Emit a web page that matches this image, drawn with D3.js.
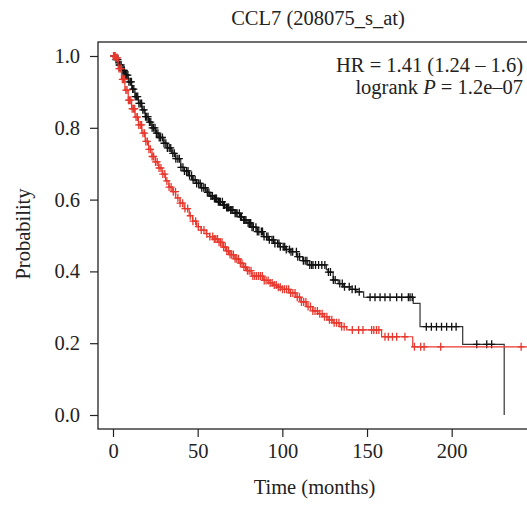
<!DOCTYPE html>
<html><head><meta charset="utf-8">
<script src="https://cdn.jsdelivr.net/npm/d3@7"></script>
<style>
html,body{margin:0;padding:0;background:#fff;}
svg{display:block;}
text{font-family:"Liberation Serif","Times New Roman",serif;fill:#222;}
</style></head>
<body>
<svg id="c" width="527" height="505"></svg>
<script>
// ---- data ----
const title = "CCL7 (208075_s_at)";
const xLabel = "Time (months)";
const yLabel = "Probability";
const xTicks = [0, 50, 100, 150, 200];
const yTicks = [0.0, 0.2, 0.4, 0.6, 0.8, 1.0];
const hrText = "HR = 1.41 (1.24 \u2013 1.6)";
const pLabelPre = "logrank ";
const pLabelVar = "P";
const pLabelPost = " = 1.2e\u201307";

// low expression (black): event times and survival after each step
const lowTimes = [0,1.2,3,5,7,9,11,13,15,17,19,21,23,25,27,30,32,34.6,37,40,42,44.5,47,49.4,52,55,57,59,62,65,67,69,72,75,77,79,82,85,88.8,92,95,98.6,102,104.5,108.5,112,115,126,127,130,133,136,140,144,148,177.3,181.3,206.5,231];
const lowSurv  = [1,0.99,0.975,0.96,0.947,0.928,0.908,0.887,0.868,0.85,0.831,0.816,0.8,0.785,0.773,0.757,0.744,0.729,0.714,0.69,0.68,0.667,0.655,0.645,0.633,0.62,0.61,0.603,0.594,0.585,0.578,0.571,0.562,0.552,0.543,0.535,0.523,0.511,0.497,0.488,0.478,0.469,0.461,0.455,0.441,0.43,0.418,0.405,0.398,0.376,0.366,0.357,0.35,0.343,0.328,0.311,0.246,0.197,0.0];
const lowCensor = [0.4,1.1,1.7,2.3,2.9,3.6,4.1,4.8,5.4,6.1,6.7,7.4,8.1,8.8,9.4,10.2,10.9,11.6,12.3,13.1,13.9,14.6,15.3,16.1,16.9,17.6,18.4,19.2,19.9,20.7,21.5,22.3,23.1,23.9,24.8,25.6,26.5,27.3,28.1,29.2,30.1,31.2,32.1,33.2,34.1,35.3,36.2,37.1,38.3,39.2,40.1,41.3,42.2,43.4,44.3,45.2,46.4,47.3,48.5,49.4,50.6,51.5,52.4,53.6,54.5,55.7,56.6,57.8,58.7,59.9,60.6,61.1,62.2,62.9,63.4,64.6,65.2,65.8,67.1,67.7,68.3,69.5,70.2,70.8,72.1,72.7,73.3,74.6,75.3,75.9,77.2,77.8,78.5,79.8,80.6,81.3,82.1,82.9,84.4,85.2,86.1,87.6,88.3,89.2,90.7,91.5,92.3,93.9,94.8,95.6,97.2,98.0,98.8,100.5,101.4,102.3,104.2,105.1,106.1,108.3,109.1,110.2,112.4,113.5,114.5,116.2,117.3,118.1,119.6,121.4,123.3,125.1,127.2,128.4,130.1,131.2,133.9,135.4,136.7,139.5,141.2,143.1,145.4,151.8,154.7,157.7,160.6,163.6,167.5,170.5,174.4,175.4,176.7,185,188,191,194,197,200,202.6,214.8,220.7,223.6];

// high expression (red)
const highTimes = [0,1.2,3,5,7,9,11,13,15,17,19,21,23,25,27,29,31,33,35,37,39.6,42,45,47,49.4,52,55,57,59,62,65,67,69,72,75,77,79,82,89,92,94.5,97,100,104.5,108,111,114.4,118,121,124,127,130,134,138,158.6,177];
const highSurv  = [1,0.995,0.965,0.935,0.905,0.877,0.853,0.83,0.808,0.785,0.762,0.74,0.72,0.705,0.688,0.671,0.652,0.635,0.622,0.605,0.59,0.575,0.555,0.54,0.525,0.515,0.505,0.497,0.49,0.481,0.468,0.457,0.447,0.435,0.423,0.412,0.402,0.387,0.375,0.368,0.362,0.356,0.35,0.34,0.328,0.315,0.302,0.29,0.282,0.274,0.265,0.257,0.246,0.237,0.218,0.19];
const highCensor = [0.3,0.9,1.6,2.2,2.8,3.5,4.2,4.9,5.5,6.2,6.9,7.6,8.3,9.1,9.8,10.5,11.3,12.1,12.8,13.6,14.4,15.2,16.1,16.9,17.7,18.6,19.4,20.3,21.2,22.1,23.1,24.0,25.1,26.1,27.2,28.3,29.4,30.6,31.8,33.1,34.3,35.6,36.9,38.3,39.6,41.1,42.5,44.1,45.6,47.2,48.8,50.4,52.1,53.7,55.4,57.2,58.9,59.8,60.7,61.7,62.6,63.5,64.4,65.3,66.3,67.2,68.2,69.1,70.1,71.1,72.1,73.1,74.1,75.2,76.2,77.3,78.3,79.4,80.4,81.5,82.6,83.7,84.8,86.0,87.1,88.2,89.3,90.4,91.6,92.8,94.0,95.2,96.4,97.6,98.8,100.1,101.3,102.5,103.7,104.9,106.2,107.5,108.8,110.1,111.3,112.6,113.9,115.2,116.6,118.0,119.3,120.7,122.1,123.5,124.9,126.3,127.8,129.2,130.6,132.0,133.4,135.0,136.5,141.3,145,147.6,152.7,154,155.6,157,160.6,162.6,165,167.5,172.4,178,181.7,183.7,193.5,241];
const highEnd = 256;

// ---- drawing ----
const svg = d3.select("#c");
const x = d3.scaleLinear().domain([0, 200]).range([113, 451.7]);
const y = d3.scaleLinear().domain([0, 1]).range([415, 56]);
const box = {l: 98, t: 42, r: 560, b: 429};
const fs = 20.5;

// title
svg.append("text").attr("x", 318).attr("y", 25).attr("text-anchor", "middle")
  .style("font-size", fs + "px").text(title);

// box
svg.append("rect").attr("x", box.l).attr("y", box.t)
  .attr("width", box.r - box.l).attr("height", box.b - box.t)
  .attr("fill", "none").attr("stroke", "#222").attr("stroke-width", 1.3);

// y axis
const yAxis = d3.axisLeft(y).tickValues(yTicks).tickFormat(d3.format(".1f")).tickSize(8).tickPadding(10);
const gy = svg.append("g").attr("transform", `translate(${box.l},0)`).call(yAxis);
gy.select(".domain").remove();
gy.selectAll("line").attr("stroke", "#222").attr("stroke-width", 1.2);
gy.selectAll("text").style("font-size", fs + "px").attr("fill", "#222").attr("font-family", null);

// x axis
const xAxis = d3.axisBottom(x).tickValues(xTicks).tickSize(8).tickPadding(6);
const gx = svg.append("g").attr("transform", `translate(0,${box.b})`).call(xAxis);
gx.select(".domain").remove();
gx.selectAll("line").attr("stroke", "#222").attr("stroke-width", 1.2);
gx.selectAll("text").style("font-size", fs + "px").attr("fill", "#222").attr("font-family", null);

// axis titles
svg.append("text").attr("x", 314.5).attr("y", 494).attr("text-anchor", "middle")
  .style("font-size", fs + "px").text(xLabel);
svg.append("text").attr("transform", "translate(30,234) rotate(-90)").attr("text-anchor", "middle")
  .style("font-size", fs + "px").text(yLabel);

// curves
function survAt(times, surv, t) {
  let s = surv[0];
  for (let i = 0; i < times.length; i++) { if (times[i] <= t) s = surv[i]; else break; }
  return s;
}
const line = d3.line().x(d => x(d[0])).y(d => y(d[1])).curve(d3.curveStepAfter);

function drawGroup(times, surv, censor, endT, color, lineColor) {
  const pts = times.map((t, i) => [t, surv[i]]);
  if (endT != null) pts.push([endT, surv[surv.length - 1]]);
  svg.append("path").attr("d", line(pts)).attr("fill", "none")
    .attr("stroke", lineColor).attr("stroke-width", 1.2);
  svg.append("g").selectAll("path").data(censor).join("path")
    .attr("d", t => {
      const cx = x(t), cy = y(survAt(times, surv, t));
      return `M${cx - 3.5},${cy}H${cx + 3.5}M${cx},${cy - 4}V${cy + 4}`;
    })
    .attr("fill", "none").attr("stroke", color).attr("stroke-width", 1.3);
}
drawGroup(lowTimes, lowSurv, lowCensor, null, "#111", "#333");
drawGroup(highTimes, highSurv, highCensor, highEnd, "#e8382e", "#e8382e");

// HR annotation
svg.append("text").attr("x", 523).attr("y", 72).attr("text-anchor", "end")
  .style("font-size", fs + "px").text(hrText);
const pt = svg.append("text").attr("x", 523).attr("y", 94).attr("text-anchor", "end")
  .style("font-size", fs + "px");
pt.append("tspan").text(pLabelPre);
pt.append("tspan").attr("font-style", "italic").text(pLabelVar);
pt.append("tspan").text(pLabelPost);
</script>
</body></html>
